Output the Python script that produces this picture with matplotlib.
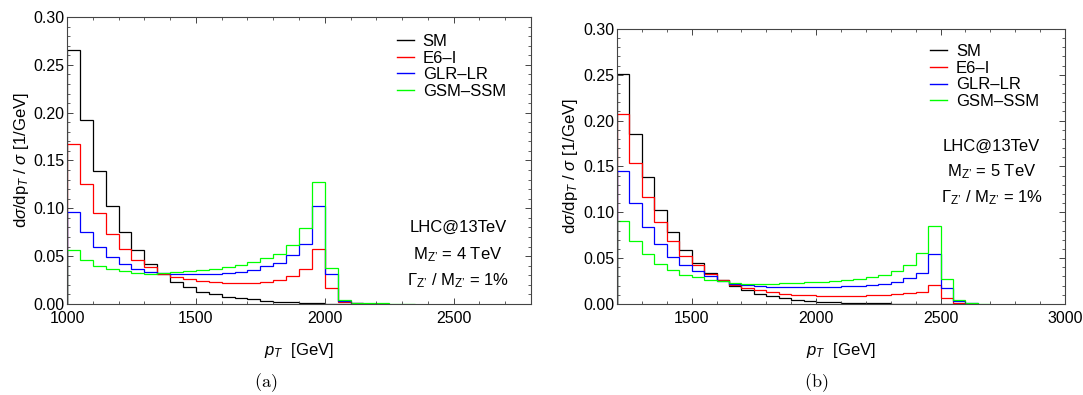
import numpy as np
import matplotlib
matplotlib.use('Agg')
import matplotlib.pyplot as plt
from matplotlib.lines import Line2D
from matplotlib.ticker import MultipleLocator, FixedLocator, FormatStrFormatter

plt.rcParams['font.family'] = ['Liberation Sans', 'DejaVu Sans']
plt.rcParams['mathtext.fontset'] = 'custom'
plt.rcParams['mathtext.rm'] = 'Liberation Sans'
plt.rcParams['mathtext.it'] = 'Liberation Sans:italic'
plt.rcParams['mathtext.bf'] = 'Liberation Sans:bold'

models = ['SM', 'E6\u2013I', 'GLR\u2013LR', 'GSM\u2013SSM']
colors = ['#000000', '#ff0000', '#0000ff', '#00ff00']
bin_width = 50

# M_Z' = 4 TeV, bins start at 1000 GeV
start_4 = 1000
sm_4 = [0.266, 0.192, 0.139, 0.102, 0.075, 0.056, 0.042, 0.031, 0.023, 0.0175,
        0.013, 0.010, 0.0078, 0.0061, 0.0048, 0.0036, 0.0026, 0.0019, 0.0013, 0.0009,
        0.0004, 0.0002, 0.0001]
e6_4 = [0.167, 0.125, 0.095, 0.073, 0.057, 0.046, 0.0385, 0.031, 0.0285, 0.0265,
        0.024, 0.0225, 0.0216, 0.0216, 0.0222, 0.0232, 0.0251, 0.0296, 0.037, 0.057,
        0.0164, 0.0024, 0.0008, 0.0003]
glr_4 = [0.096, 0.075, 0.060, 0.049, 0.042, 0.037, 0.0337, 0.032, 0.031, 0.031,
         0.031, 0.0318, 0.0325, 0.0335, 0.036, 0.0393, 0.043, 0.051, 0.063, 0.102,
         0.031, 0.003, 0.001, 0.0004]
gsm_4 = [0.056, 0.0465, 0.040, 0.0368, 0.0344, 0.0325, 0.0318, 0.0322, 0.033, 0.0343,
         0.0357, 0.0368, 0.0385, 0.0409, 0.0444, 0.048, 0.0525, 0.062, 0.079, 0.128,
         0.038, 0.004, 0.0015, 0.001, 0.0006, 0.0004, 0.0003]

# M_Z' = 5 TeV, bins start at 1200 GeV
start_5 = 1200
sm_5 = [0.251, 0.185, 0.139, 0.103, 0.0785, 0.059, 0.045, 0.034, 0.0267, 0.020,
        0.0158, 0.0114, 0.0085, 0.0067, 0.0049, 0.0038, 0.0027, 0.002, 0.0014, 0.0011,
        0.0009, 0.0007, 0.0005, 0.0004, 0.0003, 0.0003, 0.0002, 0.0001]
e6_5 = [0.207, 0.154, 0.117, 0.089, 0.069, 0.0528, 0.0427, 0.0332, 0.026, 0.021,
        0.0176, 0.015, 0.0127, 0.0113, 0.0103, 0.0096, 0.0092, 0.009, 0.009, 0.009,
        0.0093, 0.0100, 0.0108, 0.012, 0.0136, 0.021, 0.0067, 0.0015, 0.0004]
glr_5 = [0.1455, 0.110, 0.0843, 0.065, 0.0516, 0.042, 0.0357, 0.0303, 0.0248, 0.0223,
         0.0205, 0.0195, 0.0188, 0.0185, 0.0184, 0.0184, 0.0186, 0.0189, 0.0193, 0.0198,
         0.0205, 0.022, 0.0245, 0.0285, 0.034, 0.0547, 0.0176, 0.003, 0.0008]
gsm_5 = [0.090, 0.069, 0.0545, 0.0436, 0.037, 0.0321, 0.0296, 0.0267, 0.0248, 0.023,
         0.0223, 0.0222, 0.0222, 0.0225, 0.023, 0.0237, 0.0245, 0.0255, 0.0265, 0.0278,
         0.0296, 0.032, 0.0365, 0.043, 0.0558, 0.0855, 0.0278, 0.004, 0.0012, 0.0005]

FS = 12
ZP = '$_{\\mathrm{Z\u2019}}$'


def draw_panel(ax, start, series, xlim, xmajor):
    for vals, c in zip(series, colors):
        edges = start + bin_width * np.arange(len(vals) + 1)
        ax.stairs(vals, edges, color=c, lw=0.9)

    ax.set_xlim(*xlim)
    ax.set_ylim(0, 0.30)
    ax.xaxis.set_major_locator(FixedLocator(xmajor))
    ax.xaxis.set_minor_locator(MultipleLocator(100))
    ax.yaxis.set_major_locator(MultipleLocator(0.05))
    ax.yaxis.set_minor_locator(MultipleLocator(0.01))
    ax.yaxis.set_major_formatter(FormatStrFormatter('%.2f'))
    ax.tick_params(which='both', direction='in', top=True, right=True,
                   labelsize=11.5, color='#444444')
    ax.tick_params(axis='x', pad=5)
    ax.tick_params(axis='y', pad=2)
    ax.tick_params(which='major', length=4, width=0.7)
    ax.tick_params(which='minor', length=2, width=0.6)
    for s in ax.spines.values():
        s.set_color('#444444')
        s.set_linewidth(0.8)

    ax.set_xlabel(r'$p_T$  [GeV]', fontsize=FS, labelpad=11)
    ax.set_ylabel(r'd$\sigma$/dp$_T$ / $\sigma$ [1/GeV]', fontsize=FS)
    ax.legend([Line2D([], [], color=c, lw=1.0) for c in colors], models,
              loc='upper left', frameon=False, fontsize=FS, borderpad=0,
              borderaxespad=0, handlelength=1.0, handletextpad=0.55,
              labelspacing=0.1)


fig = plt.figure(figsize=(10.83, 3.95), dpi=100)
ax1 = fig.add_axes([0.0619, 0.2304, 0.4284, 0.7266])
ax2 = fig.add_axes([0.5697, 0.2304, 0.4137, 0.6962])

draw_panel(ax1, start_4, [sm_4, e6_4, glr_4, gsm_4], (1000, 2800),
           [1000, 1500, 2000, 2500])
draw_panel(ax2, start_5, [sm_5, e6_5, glr_5, gsm_5], (1200, 3000),
           [1500, 2000, 2500, 3000])

ax1.yaxis.set_label_coords(-0.078, 0.5)
ax2.yaxis.set_label_coords(-0.082, 0.5)
ax1.get_legend().set_bbox_to_anchor((0.711, 0.941), transform=ax1.transAxes)
ax2.get_legend().set_bbox_to_anchor((0.699, 0.945), transform=ax2.transAxes)

info_4 = ['LHC@13TeV', 'M' + ZP + ' = 4 TeV', r'$\Gamma$' + ZP + ' / M' + ZP + ' = 1%']
info_5 = ['LHC@13TeV', 'M' + ZP + ' = 5 TeV', r'$\Gamma$' + ZP + ' / M' + ZP + ' = 1%']
for txt, y in zip(info_4, [0.268, 0.172, 0.08]):
    ax1.text(0.843, y, txt, transform=ax1.transAxes, ha='center', va='center', fontsize=FS)
for txt, y in zip(info_5, [0.575, 0.481, 0.385]):
    ax2.text(0.836, y, txt, transform=ax2.transAxes, ha='center', va='center', fontsize=FS)

fig.text(0.2456, 0.031, r'$\mathrm{(a)}$', math_fontfamily='cm', fontsize=13, ha='center', va='center')
fig.text(0.7535, 0.031, r'$\mathrm{(b)}$', math_fontfamily='cm', fontsize=13, ha='center', va='center')

fig.savefig('out.png', dpi=100)
